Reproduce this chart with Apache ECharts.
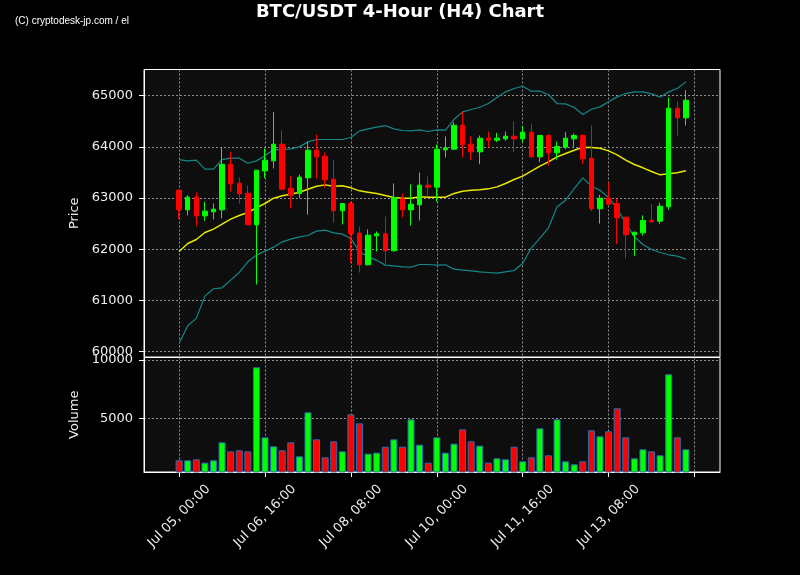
<!DOCTYPE html>
<html><head><meta charset="utf-8">
<script src="https://cdn.jsdelivr.net/npm/echarts@6/dist/echarts.min.js"></script>
<style>html,body{margin:0;background:#000;}#c{width:800px;height:575px;}</style>
</head><body><div id="c"></div><script>
// 4-hour bars, index 0 = Jul 05 00:00
const opens  = [63154,62770,63018,62653,62731,62770,63662,63291,63096,62477,63532,63727,64053,63194,63089,63395,63936,63818,63369,62751,
                62894,62315,61696,62263,62302,61970,62985,62770,62868,63252,63213,63942,63955,64424,64053,63903,64170,64131,64157,64209,
                64157,64287,63805,64222,63884,63994,64157,64222,63779,62789,62998,62894,62627,62282,62321,62562,62549,62829,64756,64567];
const closes = [62770,63018,62653,62744,62783,63662,63278,63083,62477,63545,63740,64053,63174,63057,63408,63936,63805,63356,62751,62894,
                62302,61696,62276,62302,61970,63011,62770,62881,63252,63213,63955,63981,64424,64040,63903,64170,64131,64170,64209,64157,
                64287,63805,64222,63884,64007,64170,64222,63766,62789,62998,62881,62614,62282,62334,62562,62536,62842,64756,64567,64912];
const lows   = [62595,62660,62451,62556,62582,62601,63128,62894,62477,61312,63389,63578,63154,62796,62998,62679,63382,63200,62523,62484,
                61735,61546,61683,61956,61709,61956,62621,62464,62562,63044,62927,63792,63955,63792,63740,63662,63988,64092,64118,63896,
                64085,63805,63701,63636,63753,63955,63994,63662,62744,62503,62881,62100,61820,61872,62269,62523,62497,62770,64222,64417];
const highs  = [63160,63057,63109,62927,62894,63981,63903,63402,63246,63545,63968,64684,64320,63434,63460,64098,64242,63890,63753,62894,
                62927,62439,62387,62347,62640,63285,63089,63265,63499,63421,64046,64203,64482,64684,64209,64222,64300,64274,64300,64495,
                64404,64456,64222,64248,64105,64287,64261,64248,64417,63063,63304,62985,62627,62334,62660,62881,62907,64964,64886,65107];
const volumes = [1398,1398,1483,1195,1398,2940,2167,2253,2167,9373,3367,2596,2253,2940,1739,5511,3196,1653,3024,2167,
                 5341,4567,1967,2053,2567,3196,2567,4911,2739,1195,3367,2053,2824,4053,3024,2653,1195,1567,1483,2567,
                 1310,1653,4139,1825,4911,1310,1053,1310,3970,3456,3884,5857,3367,1567,2341,2167,1825,8773,3367,2341];
const bbUpper = [63753,63727,63740,63564,63564,63753,63779,63779,63681,63727,63825,63948,63948,63961,64000,64098,64144,64144,64144,64144,
                 64183,64313,64352,64385,64417,64352,64320,64313,64333,64300,64333,64326,64535,64684,64730,64775,64847,64964,65075,65140,
                 65185,65088,65088,65023,64847,64840,64769,64632,64736,64782,64880,64977,65042,65075,65075,65036,64971,65075,65140,65270];
const bbMiddle = [61957,62113,62191,62328,62393,62490,62588,62660,62718,62809,62894,62998,63044,63076,63115,63174,63232,63258,63232,63239,
                  63200,63141,63115,63089,63050,63011,62998,62998,63024,63018,63018,63018,63089,63135,63154,63161,63180,63219,63284,63362,
                  63428,63525,63623,63707,63805,63870,63935,63994,63988,63974,63922,63844,63740,63656,63591,63519,63454,63473,63493,63532];
const bbLower = [60161,60505,60649,61085,61228,61247,61397,61547,61755,61885,61963,62041,62145,62197,62243,62269,62354,62373,62321,62295,
                 62210,61950,61852,61787,61690,61676,61657,61650,61702,61702,61690,61696,61611,61592,61579,61559,61546,61533,61559,61585,
                 61722,62028,62217,62419,62829,62959,63187,63395,63232,63154,63011,62796,62503,62243,62093,61996,61937,61892,61865,61807];
const tickIndex  = [0,10,20,30,40,50,60];
const tickLabels = ['Jul 05, 00:00','Jul 06, 16:00','Jul 08, 08:00','Jul 10, 00:00','Jul 11, 16:00','Jul 13, 08:00',''];
const priceTicks = [60000,61000,62000,63000,64000,65000];
const volumeTicks = [5000,10000];

const UP = '#00ff00', DOWN = '#ff0000';
const candleData = opens.map((o,i)=>[i,o,closes[i],lows[i],highs[i]]);
const volData = volumes.map((v,i)=>({value:[i,v], itemStyle:{color: closes[i]>=opens[i]?UP:DOWN}}));
const line = (arr)=>arr.map((v,i)=>[i,v]);

const gridLine = {show:true, lineStyle:{color:'#8f8f8f', type:[2,2], width:1}};
const txt = {color:'#eeeeee', fontFamily:'DejaVu Sans', fontSize:13};
const plain = (v)=>String(v);

const chart = echarts.init(document.getElementById('c'));
chart.setOption({
  backgroundColor:'#000',
  animation:false,
  title:{text:'BTC/USDT 4-Hour (H4) Chart', left:'center', top:-2,
    textStyle:{color:'#fff', fontFamily:'DejaVu Sans', fontWeight:'bold', fontSize:18}},
  graphic:[{type:'text', left:15, top:16, style:{text:'(C) cryptodesk-jp.com / el', fill:'#fff', font:'10px "Liberation Sans"'}}],
  grid:[
    {left:144, right:80, top:69.5, height:287.5, show:true, backgroundColor:'#0e0e0e', borderColor:'#fff', borderWidth:1},
    {left:144, right:80, top:357.5, height:114.5, show:true, backgroundColor:'#0e0e0e', borderColor:'#fff', borderWidth:1}
  ],
  xAxis:[
    {type:'value', gridIndex:0, min:-4.09, max:62.97, axisLine:{show:false, onZero:false},
     axisTick:{show:false, customValues:tickIndex}, axisLabel:{show:false, customValues:tickIndex}, splitLine:gridLine},
    {type:'value', gridIndex:1, min:-4.09, max:62.97, axisLine:{show:true, onZero:false, lineStyle:{color:'#fff'}},
     axisTick:{show:true, customValues:tickIndex, length:5, lineStyle:{color:'#fff'}},
     axisLabel:Object.assign({customValues:tickIndex.slice(0,6), rotate:45, align:'center', verticalAlign:'middle', margin:44,
       formatter:(v)=>tickLabels[tickIndex.indexOf(Math.round(v))]||''}, txt),
     splitLine:gridLine}
  ],
  yAxis:[
    {type:'value', gridIndex:0, min:59895, max:65512, name:'Price', nameLocation:'middle', nameGap:52,
     nameTextStyle:txt, axisLine:{show:true, onZero:false, lineStyle:{color:'#fff'}},
     axisTick:{show:true, customValues:priceTicks, length:5, lineStyle:{color:'#fff'}},
     axisLabel:Object.assign({customValues:priceTicks, margin:11, formatter:plain}, txt), splitLine:gridLine},
    {type:'value', gridIndex:1, min:394, max:10214, name:'Volume', nameLocation:'middle', nameGap:52,
     nameTextStyle:txt, axisLine:{show:true, onZero:false, lineStyle:{color:'#fff'}},
     axisTick:{show:true, customValues:volumeTicks, length:5, lineStyle:{color:'#fff'}},
     axisLabel:Object.assign({customValues:volumeTicks, margin:11, formatter:plain}, txt), splitLine:gridLine}
  ],
  series:[
    {type:'line', xAxisIndex:0, yAxisIndex:0, data:line(bbUpper), showSymbol:false, lineStyle:{color:'#148888', width:1.2}, z:2},
    {type:'line', xAxisIndex:0, yAxisIndex:0, data:line(bbLower), showSymbol:false, lineStyle:{color:'#148888', width:1.2}, z:2},
    {type:'line', xAxisIndex:0, yAxisIndex:0, data:line(bbMiddle), showSymbol:false, lineStyle:{color:'#e8e800', width:1.5}, z:3},
    {type:'candlestick', xAxisIndex:0, yAxisIndex:0, data:candleData, encode:{x:0, y:[1,2,3,4]}, barWidth:5,
     itemStyle:{color:UP, color0:DOWN, borderColor:UP, borderColor0:DOWN, borderWidth:1}, z:4},
    {type:'bar', xAxisIndex:1, yAxisIndex:1, data:volData, barWidth:7,
     itemStyle:{borderColor:'#2a6fb0', borderWidth:1}}
  ]
});
</script></body></html>
